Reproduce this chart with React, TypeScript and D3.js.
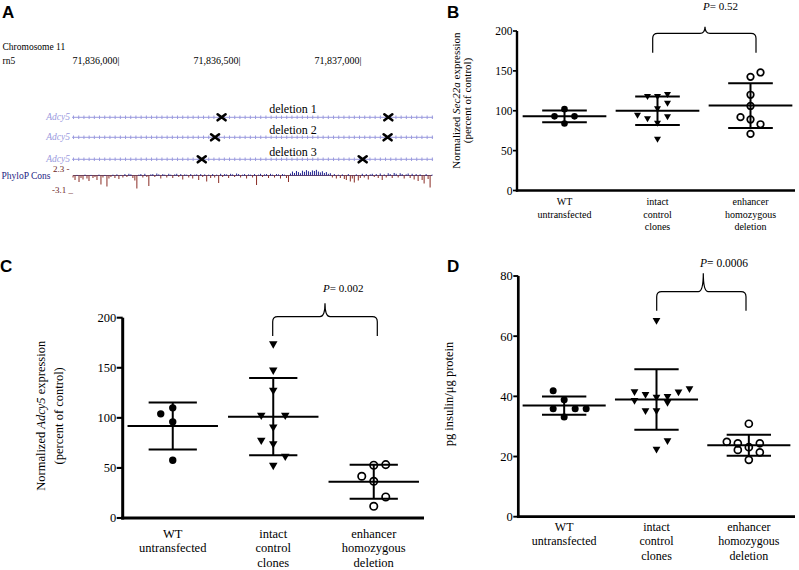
import React from 'react';
import * as d3 from 'd3';

// ---------- Panel A data ----------
const regionBp: [number, number] = [71835808, 71837300];
const coordTicks = [71836000, 71836500, 71837000];
const geneName = 'Adcy5';
const deletionNames = ['deletion 1', 'deletion 2', 'deletion 3'];
const deletionStarts = [71836426, 71836399, 71836344];
const deletionEnds = [71837115, 71837112, 71837009];
const phylopValues = [
  -0.4, -0.9, 0.2, -1.3, -0.5, -0.8, 0.3, -0.6, -1.1, 0.2,
  -0.5, -0.3, -0.9, 0.3, -1.8, -0.4, 0.2, -2.2, -0.6, -0.3,
  0.3, -0.5, 0.4, -0.7, 0.2, -0.4, 0.5, -0.3, 0.6, 0.4,
  -0.5, -1.0, -2.6, 0.3, 0.5, -0.4, 0.6, -0.3, -2.1, 0.4,
  0.5, -0.3, 0.7, 0.4, -0.6, 0.5, 0.3, -0.4, 0.6, 0.3,
  -0.5, 0.4, 0.6, -0.3, 0.5, -0.8, 0.4, 0.3, -0.4, 0.5,
  -0.6, 0.3, 0.4, -0.9, 0.5, -0.3, 0.4, -1.2, 0.3, -0.5,
  0.5, -0.4, 0.3, -1.5, 0.6, -0.3, 0.5, 0.4, -0.5, 0.6,
  0.4, -0.3, 0.7, 0.5, -0.4, 0.3, 0.5, -0.6, 0.4, 0.3,
  -0.4, 0.5, -1.9, 0.3, 0.6, -0.3, 0.4, 0.5, -0.5, 0.6,
  0.3, -0.4, 0.5, 0.4, -0.6, 0.5, 0.3, -0.5, -1.3, 0.7,
  1.4, 0.9, 1.6, 1.2, 0.8, 1.7, 1.3, 1.9, 1.5, 1.2,
  1.8, 1.6, 2.0, 1.4, 1.1, 1.5, 0.9, 1.2, 0.6, 0.8,
  -0.4, 0.5, -0.6, 0.3, -0.5, 0.4, -0.7, -0.9, 0.5, -1.2,
  -0.6, -1.4, 0.4, -1.0, -0.5, 0.6, -0.4, 0.5, -0.8, 0.4,
  0.6, -0.3, 0.5, -0.5, 0.7, -0.9, 0.4, -0.4, 0.8, 0.5,
  -0.5, 0.9, 0.6, -0.4, 0.8, 0.5, -0.6, 0.4, 0.7, -0.5,
  0.6, -0.8, 0.5, -1.1, 0.4, -0.9, -1.6, 0.5, -0.7, -2.4,
  0.3,
];
const phylopRange = [-3.1, 2.3];

// ---------- shared categories ----------
const categoryLines = [
  ['WT', 'untransfected'],
  ['intact', 'control', 'clones'],
  ['enhancer', 'homozygous', 'deletion'],
];
const categories = categoryLines.map((l) => l.join(' '));
const markerTypes = ['dot', 'tri', 'ring'];

// ---------- Panel B (Sec22a) ----------
const sec22aWT = [102, 93, 93, 84];
const sec22aIntact = [118.6, 118.6, 121, 103, 110, 95, 90.5, 93, 85, 65];
const sec22aDeletion = [120, 106, 92, 89, 83, 71, 142.5, 148];
const sec22aWTSlots = [0, -1, 1, 0];
const sec22aIntactSlots = [-1, 0, 1, 0, 1, -2, -1, 1, 0, 0];
const sec22aDeletionSlots = [0, 0, -1, 0, 1, 0, 0, 1];
const sec22aTicks = [0, 50, 100, 150, 200];
const sec22aP = '0.52';

// ---------- Panel C (Adcy5) ----------
const adcy5WT = [104, 110, 96, 57.7];
const adcy5Intact = [174, 147.7, 127.7, 102.7, 102.7, 91, 77.7, 74.3, 61.7, 52.7];
const adcy5Deletion = [52.7, 53.3, 41.7, 36.7, 21, 11.7];
const adcy5WTSlots = [-1, 0, 0, 0];
const adcy5IntactSlots = [0, 0, 0, -1, 1, 0, -1, 0, 1, 0];
const adcy5DeletionSlots = [0, 1, -1, 0, 1, 0];
const adcy5Ticks = [0, 50, 100, 150, 200];
const adcy5P = '0.002';

// ---------- Panel D (insulin) ----------
const insulinWT = [41.9, 38.9, 35.9, 35.9, 35.9, 33.1];
const insulinIntact = [41.6, 40.7, 39.8, 40, 41.5, 42.6, 38.7, 38, 35.3, 35.3, 25.3, 22.5, 65.3];
const insulinDeletion = [24.9, 24.4, 22.2, 23.1, 24.4, 21.4, 30.9, 18.9];
const insulinWTSlots = [-1, 0, -1, 1, 2, 0];
const insulinIntactSlots = [-2, -1, 0, 1, 2, 3, -2, 1, -1, 0, 1, 0, 0];
const insulinDeletionSlots = [-2, -1, -1, 0, 1, 1, 0, 0];
const insulinTicks = [0, 20, 40, 60, 80];
const insulinP = '0.0006';

const SERIF = "'Liberation Serif', 'DejaVu Serif', serif";
const SANS = "'Liberation Sans', Arial, sans-serif";

function bracketPath(x1: number, x2: number, xm: number, yTop: number, yCusp: number, yEnd: number, r: number) {
  return `M${x1},${yEnd} L${x1},${yTop + r} Q${x1},${yTop} ${x1 + r},${yTop} L${xm - r},${yTop} Q${xm},${yTop} ${xm},${yCusp} Q${xm},${yTop} ${xm + r},${yTop} L${x2 - r},${yTop} Q${x2},${yTop} ${x2},${yTop + r} L${x2},${yEnd}`;
}

type Cfg = {
  groups: number[][];
  slots: number[][];
  xRange: [number, number];
  axisX: number;
  axisXEnd: number;
  y0: number;
  yTop: number;
  yMax: number;
  ticks: number[];
  slotW: number;
  r: number;
  triSide: number;
  tickFont: number;
  tickLen: number;
  catFont: number;
  catBaselines: number[];
  axisW: number;
  yLabelLines: React.ReactNode[];
  yLabelX: number[];
  yLabelY: number;
  yLabelFont: number;
  bracket: { x1: number; x2: number; xm: number; yTop: number; yCusp: number; yEnd: number };
  pText: string;
  pX: number;
  pY: number;
  pFont: number;
};

const serif = { fontFamily: SERIF };

function ScatterPanel({ cfg }: { cfg: Cfg }) {
  const x = d3.scalePoint<string>().domain(categories).range(cfg.xRange).padding(0.5);
  const y = d3.scaleLinear().domain([0, cfg.yMax]).range([cfg.y0, cfg.yTop]);
  const step = x.step();
  const meanHW = 0.45 * step;
  const sdHW = 0.24 * step;
  const dotPath = d3.symbol(d3.symbolCircle, Math.PI * cfg.r * cfg.r)() as string;
  const triPath = d3.symbol(d3.symbolTriangle, (Math.sqrt(3) / 4) * cfg.triSide * cfg.triSide)() as string;
  const b = cfg.bracket;
  return (
    <g>
      <line x1={cfg.axisX} x2={cfg.axisX} y1={y(cfg.yMax)} y2={cfg.y0 + cfg.axisW / 2} stroke="#000" strokeWidth={cfg.axisW} />
      <line x1={cfg.axisX - cfg.axisW / 2} x2={cfg.axisXEnd} y1={cfg.y0} y2={cfg.y0} stroke="#000" strokeWidth={cfg.axisW} />
      {cfg.ticks.map((t) => (
        <g key={t}>
          <line x1={cfg.axisX - cfg.tickLen} x2={cfg.axisX} y1={y(t)} y2={y(t)} stroke="#000" strokeWidth={cfg.axisW * 0.7} />
          <text x={cfg.axisX - cfg.tickLen - 0.5} y={y(t)} dy="0.35em" textAnchor="end" fontSize={cfg.tickFont} style={serif}>
            {t}
          </text>
        </g>
      ))}
      {categories.map((c, i) =>
        categoryLines[i].map((ln, j) => (
          <text key={c + j} x={x(c)} y={cfg.catBaselines[j]} textAnchor="middle" fontSize={cfg.catFont} style={serif}>
            {ln}
          </text>
        ))
      )}
      {cfg.yLabelLines.map((ln, i) => (
        <text
          key={i}
          transform={`translate(${cfg.yLabelX[i]},${cfg.yLabelY}) rotate(-90)`}
          textAnchor="middle"
          dy="0.35em"
          fontSize={cfg.yLabelFont}
          style={serif}
        >
          {ln}
        </text>
      ))}
      {categories.map((c, gi) => {
        const vals = cfg.groups[gi];
        const cx = x(c) as number;
        const m = d3.mean(vals) as number;
        const sd = d3.deviation(vals) as number;
        return (
          <g key={c}>
            <line x1={cx - meanHW} x2={cx + meanHW} y1={y(m)} y2={y(m)} stroke="#000" strokeWidth={2} />
            <line x1={cx - sdHW} x2={cx + sdHW} y1={y(m + sd)} y2={y(m + sd)} stroke="#000" strokeWidth={2} />
            <line x1={cx - sdHW} x2={cx + sdHW} y1={y(m - sd)} y2={y(m - sd)} stroke="#000" strokeWidth={2} />
            <line x1={cx} x2={cx} y1={y(m + sd)} y2={y(m - sd)} stroke="#000" strokeWidth={2} />
            {vals.map((v, k) => {
              const px = cx + cfg.slots[gi][k] * cfg.slotW;
              const py = y(v);
              const t = markerTypes[gi];
              if (t === 'dot') return <path key={k} d={dotPath} transform={`translate(${px},${py})`} fill="#000" />;
              if (t === 'tri')
                return <path key={k} d={triPath} transform={`translate(${px},${py}) rotate(180)`} fill="#000" />;
              return <circle key={k} cx={px} cy={py} r={cfg.r} fill="none" stroke="#000" strokeWidth={1.7} />;
            })}
          </g>
        );
      })}
      <path d={bracketPath(b.x1, b.x2, b.xm, b.yTop, b.yCusp, b.yEnd, 5)} fill="none" stroke="#000" strokeWidth={1.2} />
      <text x={cfg.pX} y={cfg.pY} fontSize={cfg.pFont} style={serif}>
        <tspan fontStyle="italic">P</tspan>= {cfg.pText}
      </text>
    </g>
  );
}

function PanelA() {
  const gx = d3.scaleLinear().domain([71836000, 71837000]).range([118.5, 360.5]);
  const fmt = d3.format(',');
  const rowY = [117.3, 137.3, 159.3];
  const labelY = [113, 134, 156];
  const trackBase = 175.5;
  const py = d3.scaleLinear().domain([phylopRange[0], 0, phylopRange[1]]).range([191, trackBase, 169]);
  const ix = d3.scaleLinear().domain([0, phylopValues.length - 1]).range([gx(regionBp[0]) + 1, gx(regionBp[1]) - 1]);
  const geneColor = '#9a9ade';
  const xMark = (cx: number, cy: number, k: string) => (
    <path key={k} d={`M${cx - 4},${cy - 3} L${cx + 4},${cy + 3} M${cx - 4},${cy + 3} L${cx + 4},${cy - 3}`} stroke="#000" strokeWidth={2.6} strokeLinecap="round" />
  );
  return (
    <g>
      <text x={2} y={18} fontWeight="bold" fontSize={17} style={{ fontFamily: SANS }}>A</text>
      <text x={2.5} y={49.5} fontSize={9.5} style={serif}>Chromosome 11</text>
      <text x={2.5} y={63.5} fontSize={9.5} style={serif}>rn5</text>
      {coordTicks.map((t) => (
        <text key={t} x={gx(t) + 1} y={63.5} fontSize={10} textAnchor="end" style={serif}>
          {fmt(t)}|
        </text>
      ))}
      {rowY.map((ry, i) => (
        <g key={i}>
          <text x={70} y={ry + 3} fontSize={9.5} fontStyle="italic" textAnchor="end" fill={geneColor} style={serif}>
            {geneName}
          </text>
          <line x1={gx(regionBp[0])} x2={gx(regionBp[1])} y1={ry} y2={ry} stroke={geneColor} strokeWidth={1} />
          <line x1={gx(regionBp[0]) + 1} x2={gx(regionBp[1])} y1={ry} y2={ry} stroke={geneColor} strokeWidth={3.5} strokeDasharray="1 4.2" />
          <text x={293} y={labelY[i]} fontSize={12} textAnchor="middle" style={serif}>
            {deletionNames[i]}
          </text>
          {xMark(gx(deletionStarts[i]), ry, 's' + i)}
          {xMark(gx(deletionEnds[i]), ry, 'e' + i)}
        </g>
      ))}
      <text x={1.5} y={178.5} fontSize={9.5} fill="#23237f" style={serif}>PhyloP Cons</text>
      <text x={53} y={172} fontSize={9} fill="#6a2222" style={serif}>2.3 -</text>
      <text x={52} y={192.5} fontSize={9} fill="#6a2222" style={serif}>-3.1 _</text>
      <line x1={ix(0)} x2={ix(phylopValues.length - 1)} y1={trackBase} y2={trackBase} stroke="#6a4a6a" strokeWidth={1} />
      {phylopValues.map((v, i) => (
        <line
          key={i}
          x1={ix(i)}
          x2={ix(i)}
          y1={trackBase}
          y2={py(v)}
          stroke={v >= 0 ? '#1f2390' : '#8a2c24'}
          strokeWidth={1}
        />
      ))}
    </g>
  );
}

const cfgB: Cfg = {
  groups: [sec22aWT, sec22aIntact, sec22aDeletion],
  slots: [sec22aWTSlots, sec22aIntactSlots, sec22aDeletionSlots],
  xRange: [518, 797],
  axisX: 517,
  axisXEnd: 795,
  y0: 190.5,
  yTop: 31,
  yMax: 200,
  ticks: sec22aTicks,
  slotW: 10,
  r: 3.3,
  triSide: 7,
  tickFont: 11.5,
  tickLen: 4,
  catFont: 10,
  catBaselines: [205, 217.5, 230],
  axisW: 2.4,
  yLabelLines: [
    <>
      Normalized <tspan fontStyle="italic">Sec22a</tspan> expression
    </>,
    '(percent of control)',
  ],
  yLabelX: [456.5, 467],
  yLabelY: 100.5,
  yLabelFont: 11,
  bracket: { x1: 652.7, x2: 756, xm: 705, yTop: 33.3, yCusp: 26.7, yEnd: 52.7 },
  pText: sec22aP,
  pX: 703,
  pY: 10,
  pFont: 11,
};

const cfgC: Cfg = {
  groups: [adcy5WT, adcy5Intact, adcy5Deletion],
  slots: [adcy5WTSlots, adcy5IntactSlots, adcy5DeletionSlots],
  xRange: [122.5, 424],
  axisX: 122.7,
  axisXEnd: 424,
  y0: 518,
  yTop: 317.7,
  yMax: 200,
  ticks: adcy5Ticks,
  slotW: 12,
  r: 3.7,
  triSide: 8.5,
  tickFont: 12.5,
  tickLen: 6,
  catFont: 12.5,
  catBaselines: [537.5, 552, 566.5],
  axisW: 3,
  yLabelLines: [
    <>
      Normalized <tspan fontStyle="italic">Adcy5</tspan> expression
    </>,
    '(percent of control)',
  ],
  yLabelX: [40.5, 58.5],
  yLabelY: 415.8,
  yLabelFont: 12.5,
  bracket: { x1: 272.7, x2: 377.3, xm: 325, yTop: 316.7, yCusp: 303.3, yEnd: 336 },
  pText: adcy5P,
  pX: 323,
  pY: 291.5,
  pFont: 11,
};

const cfgD: Cfg = {
  groups: [insulinWT, insulinIntact, insulinDeletion],
  slots: [insulinWTSlots, insulinIntactSlots, insulinDeletionSlots],
  xRange: [518, 795],
  axisX: 518.3,
  axisXEnd: 795,
  y0: 516.7,
  yTop: 276,
  yMax: 80,
  ticks: insulinTicks,
  slotW: 11,
  r: 3.5,
  triSide: 7.8,
  tickFont: 12.5,
  tickLen: 5,
  catFont: 12,
  catBaselines: [530.5, 545, 559.5],
  axisW: 2.7,
  yLabelLines: ['pg insulin/μg protein'],
  yLabelX: [448.3],
  yLabelY: 394,
  yLabelFont: 12.5,
  bracket: { x1: 656.7, x2: 746, xm: 703.3, yTop: 291.7, yCusp: 273.3, yEnd: 310.7 },
  pText: insulinP,
  pX: 700,
  pY: 266.5,
  pFont: 11.5,
};

export default function App() {
  return (
    <svg
      width={799}
      height={570}
      viewBox="0 0 799 570"
      style={{ position: 'absolute', left: 0, top: 0, display: 'block', background: '#fff', fontFamily: SERIF }}
    >
      <rect x={0} y={0} width={799} height={570} fill="#fff" />
      <PanelA />
      <text x={447} y={17.5} fontWeight="bold" fontSize={17} style={{ fontFamily: SANS }}>B</text>
      <ScatterPanel cfg={cfgB} />
      <text x={0} y={272} fontWeight="bold" fontSize={17} style={{ fontFamily: SANS }}>C</text>
      <ScatterPanel cfg={cfgC} />
      <text x={447} y={272} fontWeight="bold" fontSize={17} style={{ fontFamily: SANS }}>D</text>
      <ScatterPanel cfg={cfgD} />
    </svg>
  );
}
